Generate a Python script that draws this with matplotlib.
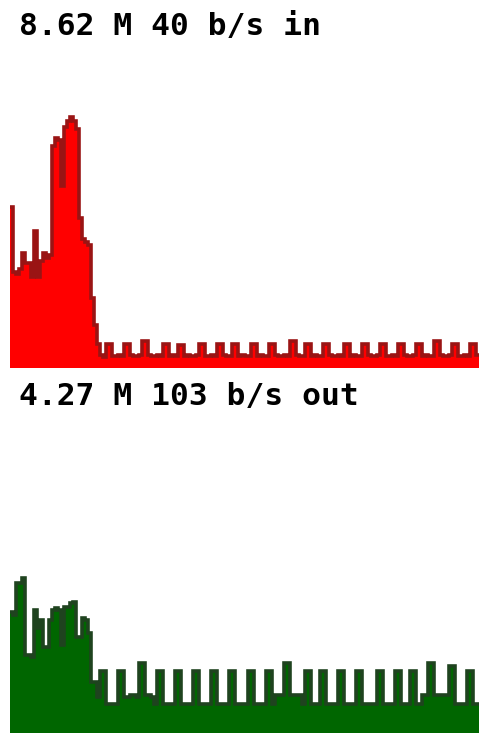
import numpy as np
import matplotlib
matplotlib.use("Agg")
import matplotlib.pyplot as plt

# traffic samples (Mb/s-ish scale, axes top = 10)
in_label = "8.62 M 40 b/s in"
out_label = "4.27 M 103 b/s out"

traffic_in = [
    6.0, 3.6, 3.5, 3.7, 4.3, 3.9, 3.9, 3.4, 5.1, 3.4,
    4.0, 4.3, 4.1, 4.2, 8.3, 8.6, 8.5, 6.8, 9.0, 9.2,
    9.35, 9.2, 8.9, 5.6, 4.8, 4.7, 4.6, 2.6, 1.6, 0.9,
    0.5, 0.4, 0.9, 0.9, 0.45, 0.45, 0.5, 0.45, 0.9, 0.9,
    0.5, 0.45, 0.45, 0.5, 1.0, 1.0, 0.5, 0.45, 0.45, 0.5,
    0.45, 0.9, 0.9, 0.45, 0.5, 0.45, 0.85, 0.85, 0.45, 0.5,
    0.45, 0.45, 0.5, 0.9, 0.9, 0.45, 0.45, 0.5, 0.45, 0.9,
    0.9, 0.5, 0.45, 0.45, 0.9, 0.9, 0.45, 0.5, 0.45, 0.45,
    0.9, 0.9, 0.45, 0.5, 0.45, 0.45, 0.9, 0.9, 0.5, 0.45,
    0.45, 0.5, 0.45, 1.0, 1.0, 0.5, 0.45, 0.45, 0.9, 0.9,
    0.45, 0.5, 0.45, 0.45, 0.9, 0.9, 0.5, 0.45, 0.45, 0.5,
    0.45, 0.9, 0.9, 0.45, 0.5, 0.45, 0.45, 0.9, 0.9, 0.5,
    0.45, 0.45, 0.5, 0.9, 0.9, 0.45, 0.45, 0.5, 0.45, 0.9,
    0.9, 0.5, 0.45, 0.45, 0.5, 0.9, 0.9, 0.45, 0.5, 0.45,
    0.45, 1.0, 1.0, 0.5, 0.45, 0.45, 0.5, 0.9, 0.9, 0.45,
    0.45, 0.5, 0.45, 0.9, 0.9, 0.5,
]

traffic_out = [
    4.5, 4.4, 5.6, 5.6, 5.8, 2.9, 2.9, 2.85, 4.6, 3.9,
    4.2, 3.2, 3.2, 4.2, 4.6, 4.65, 4.6, 3.3, 4.7, 4.7,
    4.85, 4.9, 3.6, 3.6, 4.3, 4.2, 3.75, 1.9, 1.9, 1.35,
    2.3, 2.3, 1.1, 1.1, 1.1, 1.1, 2.3, 2.3, 1.35, 1.35,
    1.4, 1.4, 1.35, 2.6, 2.6, 1.4, 1.4, 1.35, 1.1, 2.3,
    2.3, 1.1, 1.1, 1.1, 1.1, 2.3, 2.3, 1.1, 1.1, 1.1,
    1.1, 2.3, 2.3, 1.1, 1.1, 1.1, 1.1, 2.3, 2.3, 1.1,
    1.1, 1.1, 1.1, 2.3, 2.3, 1.1, 1.1, 1.1, 1.1, 2.3,
    2.3, 1.1, 1.1, 1.1, 1.1, 2.3, 2.3, 1.1, 1.4, 1.4,
    1.4, 2.6, 2.6, 1.4, 1.4, 1.4, 1.4, 1.1, 2.3, 2.3,
    1.1, 1.1, 1.1, 2.3, 2.3, 1.1, 1.1, 1.1, 1.1, 2.3,
    2.3, 1.1, 1.1, 1.1, 1.1, 2.3, 2.3, 1.1, 1.1, 1.1,
    1.1, 1.1, 2.3, 2.3, 1.1, 1.1, 1.1, 1.1, 2.3, 2.3,
    1.1, 1.1, 1.1, 2.3, 2.3, 1.1, 1.1, 1.4, 1.4, 2.6,
    2.6, 1.4, 1.4, 1.4, 1.4, 1.4, 2.5, 2.5, 1.1, 1.1,
    1.1, 1.1, 2.3, 2.3, 1.1, 1.1,
]

W, H = 479, 733
fig = plt.figure(figsize=(W / 100, H / 100), dpi=100)
fig.patch.set_facecolor("white")

def panel(bottom_px, values, fill, edge):
    ax = fig.add_axes([10 / W, bottom_px / H, 469 / W, 268 / H])
    edges = np.arange(len(values) + 1)
    ax.stairs(values, edges, fill=True, color=fill, linewidth=0)
    # darker outline along the top of the area
    ax.stairs(values, edges, color=edge, linewidth=2.6, baseline=None)
    ax.set_xlim(0, len(values))
    ax.set_ylim(0, 10)
    ax.axis("off")
    return ax

panel(733 - 368, traffic_in, "#ff0000", "#9a1414")
panel(0, traffic_out, "#006600", "#1f431f")

# header labels
fig.text(19 / W, 1 - 35 / H, in_label, family="DejaVu Sans Mono",
         weight="bold", fontsize=22.5, color="black", va="baseline")
fig.text(19 / W, 1 - 405 / H, out_label, family="DejaVu Sans Mono",
         weight="bold", fontsize=22.5, color="black", va="baseline")

fig.savefig("out.png", dpi=100, facecolor="white")
